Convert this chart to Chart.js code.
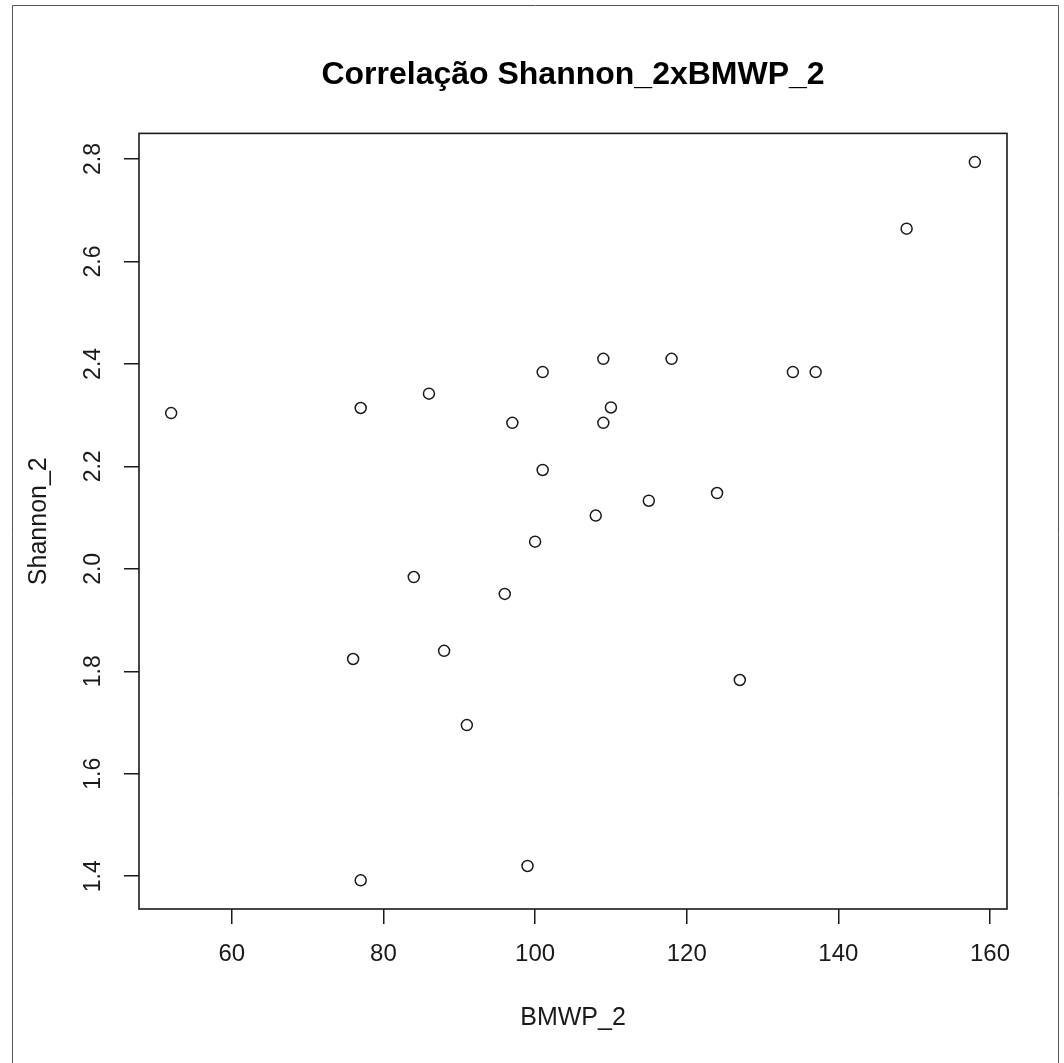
<!DOCTYPE html>
<html>
<head>
<meta charset="utf-8">
<script src="https://cdn.jsdelivr.net/npm/chart.js@4/dist/chart.umd.min.js"></script>
<style>
  html, body { margin: 0; padding: 0; background: #fff; }
  #wrap { width: 1064px; height: 1063px; position: relative; }
</style>
</head>
<body>
<div id="wrap"><canvas id="c" width="1064" height="1063"></canvas></div>
<script>
// ---- data ----
const bmwp = [52, 77, 86, 97, 101, 109, 118, 110, 109, 101, 108, 115, 124, 100, 84, 96, 76, 88, 127, 91, 99, 77, 134, 137, 149, 158];
const shannon = [2.304, 2.314, 2.342, 2.285, 2.384, 2.410, 2.410, 2.315, 2.285, 2.193, 2.104, 2.133, 2.148, 2.053, 1.984, 1.951, 1.824, 1.840, 1.783, 1.695, 1.420, 1.392, 2.384, 2.384, 2.664, 2.794];
const xTicks = [60, 80, 100, 120, 140, 160];
const yTicks = [1.4, 1.6, 1.8, 2.0, 2.2, 2.4, 2.6, 2.8];
const yTickLabels = ['1.4', '1.6', '1.8', '2.0', '2.2', '2.4', '2.6', '2.8'];
const xRange = [47.76, 162.24];
const yRange = [1.336, 2.850];
const titleText = 'Correlação Shannon_2xBMWP_2';
const xTitle = 'BMWP_2';
const yTitle = 'Shannon_2';

const FONT = '"Liberation Sans", Arial, Helvetica, sans-serif';
const INK = '#1a1a1a';

const points = bmwp.map((x, i) => ({ x: x, y: shannon[i] }));

const rPlot = {
  id: 'rPlot',
  beforeDraw(chart) {
    const ctx = chart.ctx;
    ctx.save();
    ctx.fillStyle = '#fff';
    ctx.fillRect(0, 0, chart.width, chart.height);
    // outer frame of the picture
    ctx.strokeStyle = '#555';
    ctx.lineWidth = 1;
    ctx.beginPath();
    ctx.moveTo(12.5, 1063);
    ctx.lineTo(12.5, 5.5);
    ctx.lineTo(1058.5, 5.5);
    ctx.lineTo(1058.5, 1063);
    ctx.stroke();
    ctx.restore();
  },
  afterDraw(chart) {
    const ctx = chart.ctx;
    const a = chart.chartArea;
    ctx.save();
    // box around the plot region
    ctx.strokeStyle = INK;
    ctx.lineWidth = 1.6;
    ctx.strokeRect(a.left, a.top, a.right - a.left, a.bottom - a.top);
    // rotated y tick labels (R style, las = 0)
    const ys = chart.scales.y;
    ctx.fillStyle = INK;
    ctx.font = '23px ' + FONT;
    ctx.textAlign = 'center';
    ctx.textBaseline = 'middle';
    yTicks.forEach((v, i) => {
      const py = ys.getPixelForValue(v);
      ctx.save();
      ctx.translate(94, py);
      ctx.rotate(-Math.PI / 2);
      ctx.fillText(yTickLabels[i], 0, 0);
      ctx.restore();
    });
    ctx.restore();
  }
};

new Chart(document.getElementById('c'), {
  type: 'scatter',
  data: {
    datasets: [{
      data: points,
      pointStyle: 'circle',
      pointRadius: 5.5,
      pointHoverRadius: 5.5,
      borderWidth: 1.5,
      borderColor: INK,
      backgroundColor: 'rgba(0,0,0,0)'
    }]
  },
  options: {
    responsive: false,
    devicePixelRatio: 1,
    animation: false,
    events: [],
    layout: { padding: { left: 10, right: 57, top: 0, bottom: 10 } },
    plugins: {
      legend: { display: false },
      tooltip: { enabled: false },
      title: {
        display: true,
        text: titleText,
        fullSize: false,
        color: '#000',
        font: { family: FONT, size: 32, weight: 'bold', lineHeight: 1.2 },
        padding: { top: 56, bottom: 39 }
      }
    },
    scales: {
      x: {
        type: 'linear',
        min: xRange[0],
        max: xRange[1],
        afterBuildTicks: (s) => { s.ticks = xTicks.map(v => ({ value: v })); },
        afterFit: (s) => { s.height = 144; },
        border: { display: false },
        grid: { drawOnChartArea: false, drawTicks: true, tickLength: 15, color: INK, lineWidth: 1.5 },
        ticks: {
          color: INK,
          font: { family: FONT, size: 24 },
          padding: 16,
          maxRotation: 0,
          minRotation: 0,
          autoSkip: false
        },
        title: {
          display: true,
          text: xTitle,
          color: INK,
          font: { family: FONT, size: 25 },
          padding: { top: 20, bottom: 20 }
        }
      },
      y: {
        type: 'linear',
        min: yRange[0],
        max: yRange[1],
        afterBuildTicks: (s) => { s.ticks = yTicks.map(v => ({ value: v })); },
        afterFit: (s) => { s.width = 129; },
        border: { display: false },
        grid: { drawOnChartArea: false, drawTicks: true, tickLength: 15, color: INK, lineWidth: 1.5 },
        ticks: { display: false },
        title: {
          display: true,
          text: yTitle,
          color: INK,
          font: { family: FONT, size: 25 },
          padding: { top: 14, bottom: 10 }
        }
      }
    }
  },
  plugins: [rPlot]
});
</script>
</body>
</html>
